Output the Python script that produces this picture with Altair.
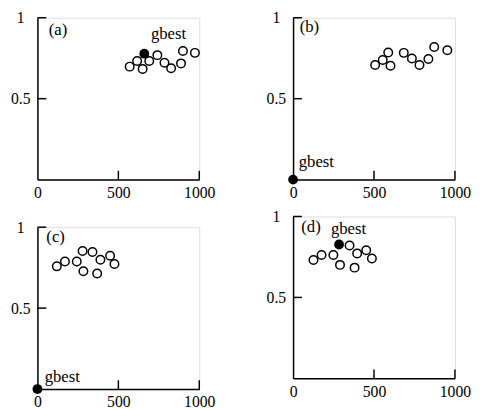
import altair as alt
import pandas as pd

FONT = "Liberation Serif"

# ---- data ----
a_x = [570, 616, 650, 691, 741, 785, 826, 887, 899, 973]
a_y = [0.698, 0.733, 0.684, 0.733, 0.769, 0.722, 0.688, 0.718, 0.795, 0.783]
a_best = (660, 0.778)

b_x = [507, 554, 588, 602, 684, 734, 781, 836, 872, 953]
b_y = [0.708, 0.739, 0.785, 0.704, 0.783, 0.748, 0.708, 0.745, 0.819, 0.799]
b_best = (0, 0.0)

c_x = [120, 170, 243, 279, 284, 340, 369, 389, 449, 476]
c_y = [0.758, 0.788, 0.788, 0.853, 0.728, 0.847, 0.714, 0.799, 0.823, 0.772]
c_best = (0, 0.0)

d_x = [126, 176, 249, 290, 349, 380, 396, 452, 487]
d_y = [0.731, 0.762, 0.762, 0.701, 0.821, 0.684, 0.772, 0.792, 0.741]
d_best = (284, 0.827)

panel_labels = ["(a)", "(b)", "(c)", "(d)"]
panel_label_pos = [(70, 0.925), (41, 0.94), (55, 0.938), (51, 0.934)]
gbest_pos = [(701, 0.897), (35, 0.11), (45, 0.071), (234, 0.924)]

x_ticks = [500, 1000]
y_ticks = [0.5, 1.0]
x_labels = [0, 500, 1000]
y_labels = [0.5, 1]

W, H = 165, 165
TICK = 9

xs = alt.Scale(domain=[0, 1000], nice=False, zero=False)
ys = alt.Scale(domain=[0, 1], nice=False, zero=False)


def panel(px, py, best, label, lpos, gpos):
    pts = pd.DataFrame({"x": px, "y": py})
    bd = pd.DataFrame({"x": [best[0]], "y": [best[1]]})
    lab = pd.DataFrame({"x": [lpos[0]], "y": [lpos[1]], "t": [label]})
    gb = pd.DataFrame({"x": [gpos[0]], "y": [gpos[1]], "t": ["gbest"]})
    xt = pd.DataFrame({"x": x_ticks})
    yt = pd.DataFrame({"y": y_ticks})

    base_x = alt.X("x:Q", scale=xs, title=None,
                   axis=alt.Axis(values=x_labels, format="d", ticks=False, tickSize=0,
                                 grid=False, domainColor="black", domainWidth=1.5,
                                 labelFont=FONT, labelFontSize=16, labelColor="black",
                                 labelPadding=5, labelFlush=False, labelOverlap=False))
    base_y = alt.Y("y:Q", scale=ys, title=None,
                   axis=alt.Axis(values=y_labels, format="~g", ticks=False, tickSize=0,
                                 grid=False, domainColor="black", domainWidth=1.5,
                                 labelFont=FONT, labelFontSize=16, labelColor="black",
                                 labelAlign="center", labelPadding=17.5,
                                 labelFlush=False, labelOverlap=False))

    circles = alt.Chart(pts).mark_point(shape="circle", filled=False, size=75,
                                        strokeWidth=1.5, color="black", opacity=1,
                                        clip=False).encode(x=base_x, y=base_y)
    bestm = alt.Chart(bd).mark_circle(size=100, color="black", opacity=1,
                                      clip=False).encode(x=alt.X("x:Q", scale=xs),
                                                         y=alt.Y("y:Q", scale=ys))
    xtick = alt.Chart(xt).mark_rule(color="black", strokeWidth=1.5).encode(
        x=alt.X("x:Q", scale=xs), y=alt.value(H), y2=alt.value(H - TICK))
    ytick = alt.Chart(yt).mark_rule(color="black", strokeWidth=1.5).encode(
        y=alt.Y("y:Q", scale=ys), x=alt.value(0), x2=alt.value(TICK))
    ltxt = alt.Chart(lab).mark_text(font=FONT, fontSize=17, align="left",
                                    baseline="middle", color="black").encode(
        x=alt.X("x:Q", scale=xs), y=alt.Y("y:Q", scale=ys), text="t:N")
    gtxt = alt.Chart(gb).mark_text(font=FONT, fontSize=17, align="left",
                                   baseline="middle", color="black").encode(
        x=alt.X("x:Q", scale=xs), y=alt.Y("y:Q", scale=ys), text="t:N")
    return alt.layer(circles, bestm, xtick, ytick, ltxt, gtxt).properties(width=W, height=H)


pa = panel(a_x, a_y, a_best, panel_labels[0], panel_label_pos[0], gbest_pos[0])
pb = panel(b_x, b_y, b_best, panel_labels[1], panel_label_pos[1], gbest_pos[1])
pc = panel(c_x, c_y, c_best, panel_labels[2], panel_label_pos[2], gbest_pos[2])
pd_ = panel(d_x, d_y, d_best, panel_labels[3], panel_label_pos[3], gbest_pos[3])

left = alt.vconcat(pa, pc, spacing=48.5, bounds="flush")
right = alt.vconcat(pb, pd_, spacing=37.6, bounds="flush")
chart = alt.hconcat(left, right, spacing=260.6, bounds="flush").properties(
    padding={"top": -3, "left": 2, "right": 0, "bottom": 0}
).configure_view(stroke=None).configure(background="white")

chart.save("out.html", embed_options={"renderer": "svg", "actions": False})
